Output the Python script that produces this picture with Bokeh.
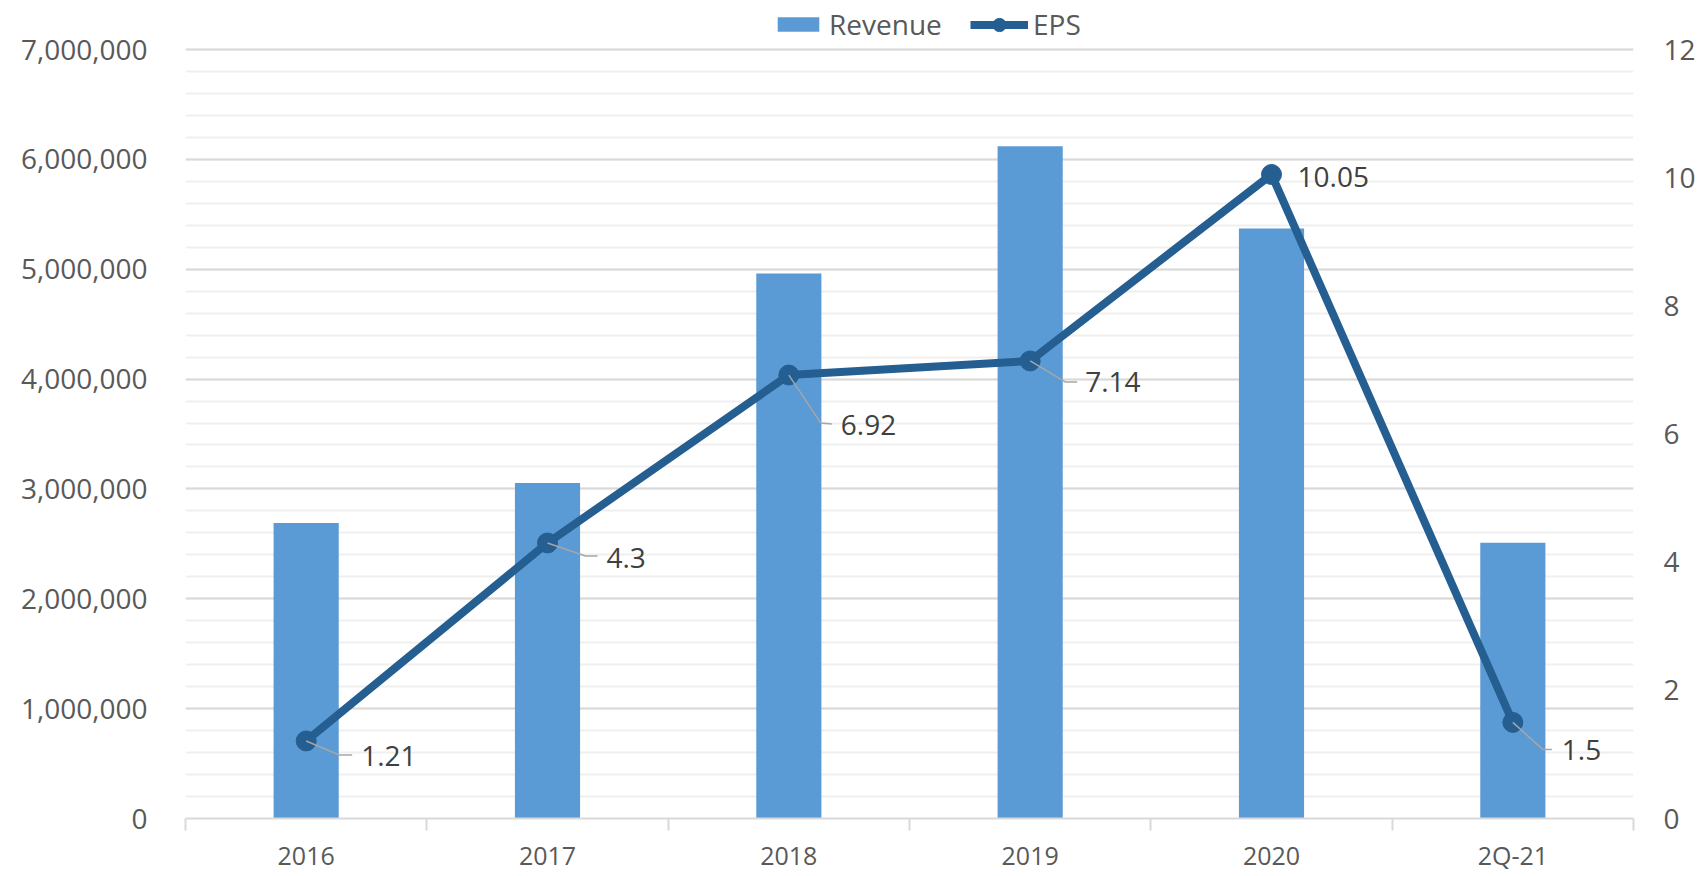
from bokeh.plotting import figure
from bokeh.models import (Range1d, LinearAxis, FixedTicker, SingleIntervalTicker,
                          NumeralTickFormatter, Legend, LegendItem, ColumnDataSource)
from bokeh.core.properties import value
from bokeh.embed import file_html
from bokeh.resources import INLINE

categories = ["2016", "2017", "2018", "2019", "2020", "2Q-21"]
revenue = [2690000, 3055000, 4960000, 6120000, 5370000, 2510000]
eps = [1.21, 4.3, 6.92, 7.14, 10.05, 1.5]
eps_labels = ["1.21", "4.3", "6.92", "7.14", "10.05", "1.5"]
rev_max, eps_max = 7000000, 12

# label placement (screen px offsets from point)
lab_dx = [55, 59, 52, 55, 26, 49]
lab_dy = [15, 15, 50, 21, 3, 28]
elbow = [(33, 14), (38, 13), (32, 48), (35, 21), None, (30, 27)]
lend = [(46, 14), (50, 13), (43, 49), (47, 21), None, (39, 27)]

W, H = 1700, 874
TOP = 49  # px between figure top and the top gridline (legend lives there)
ML, MR, MT, MB = 185, 67, 0, 56
FW, FH = W - ML - MR, H - MT - MB
EXT = FH / (FH - TOP)

BAR = "#5b9bd5"
LINE = "#255e91"
TXT = "#595959"
FONT = "Open Sans"

n = len(categories)
xs = [i + 0.5 for i in range(n)]

p = figure(width=W, height=H, output_backend="svg", toolbar_location=None,
           x_range=Range1d(0, n), y_range=Range1d(0, rev_max * EXT),
           min_border_left=ML, min_border_right=MR, min_border_top=MT, min_border_bottom=MB)
p.outline_line_color = None
p.background_fill_color = "white"
p.border_fill_color = "white"
p.extra_y_ranges = {"eps": Range1d(0, eps_max * EXT)}

# grid
p.xgrid.grid_line_color = None
yt = SingleIntervalTicker(interval=1000000, num_minor_ticks=5)
p.yaxis.ticker = yt
p.ygrid.ticker = yt
p.ygrid.bounds = (-1000, rev_max + 1000)
p.ygrid.grid_line_color = "#d9d9d9"
p.ygrid.grid_line_width = 2
p.ygrid.minor_grid_line_color = "#efefef"
p.ygrid.minor_grid_line_width = 2

# left axis
ya = p.yaxis[0]
ya.bounds = (0, rev_max)
ya.formatter = NumeralTickFormatter(format="0,0")
ya.axis_line_color = None
ya.major_tick_line_color = None
ya.minor_tick_line_color = None
ya.major_tick_out = 0
ya.minor_tick_out = 0
ya.major_label_standoff = 38
ya.major_label_text_font = FONT
ya.major_label_text_font_size = "28px"
ya.major_label_text_color = TXT

# right axis
ra = LinearAxis(y_range_name="eps", ticker=SingleIntervalTicker(interval=2), bounds=(0, eps_max))
ra.axis_line_color = None
ra.major_tick_line_color = None
ra.minor_tick_line_color = None
ra.major_tick_out = 0
ra.minor_tick_out = 0
ra.major_label_standoff = 30
ra.major_label_text_font = FONT
ra.major_label_text_font_size = "28px"
ra.major_label_text_color = TXT
p.add_layout(ra, "right")

# x axis
xa = p.xaxis[0]
xa.ticker = FixedTicker(ticks=xs, minor_ticks=list(range(n + 1)))
xa.major_label_overrides = {x: c for x, c in zip(xs, categories)}
xa.axis_line_color = "#d9d9d9"
xa.axis_line_width = 2
xa.major_tick_line_color = None
xa.major_tick_out = 0
xa.major_tick_in = 0
xa.minor_tick_line_color = "#d9d9d9"
xa.minor_tick_line_width = 2
xa.minor_tick_in = 0
xa.minor_tick_out = 12
xa.major_label_standoff = 7
xa.major_label_text_font = FONT
xa.major_label_text_font_size = "25px"
xa.major_label_text_color = TXT

# bars
bars = p.vbar(x=xs, top=revenue, width=0.27, fill_color=BAR, line_color=None)

# EPS line
ln = p.line(xs, eps, y_range_name="eps", line_color=LINE, line_width=8, line_join="round")
sc = p.scatter(xs, eps, y_range_name="eps", size=20, fill_color=LINE, line_color=LINE)

# leader lines
pxx = FW / n
pxy = (FH - TOP) / eps_max
lx, ly = [], []
for i in range(n):
    if elbow[i] is None:
        continue
    ex, ey = elbow[i]
    fx, fy = lend[i]
    lx.append([xs[i], xs[i] + ex / pxx, xs[i] + fx / pxx])
    ly.append([eps[i], eps[i] - ey / pxy, eps[i] - fy / pxy])
p.multi_line(lx, ly, y_range_name="eps", line_color="#a6a6a6", line_width=1.5)

src = ColumnDataSource(dict(x=xs, y=eps, t=eps_labels, dx=lab_dx, dy=lab_dy))
p.text(x="x", y="y", text="t", x_offset="dx", y_offset="dy", source=src, y_range_name="eps",
       text_font=value(FONT), text_font_size="28px", text_color="#404040",
       text_align="left", text_baseline="middle")

common = dict(orientation="horizontal", label_standoff=5, spacing=0,
              label_text_font=FONT, label_text_font_size="28px", label_text_color=TXT,
              border_line_color=None, background_fill_alpha=0, padding=0, margin=0)
# location = bottom-left corner of the legend box, relative to frame bottom-left
leg1 = Legend(items=[LegendItem(label="Revenue", renderers=[bars])],
              location=(587, FH - 43), glyph_width=52, glyph_height=18,
              label_height=34, **common)
leg2 = Legend(items=[LegendItem(label="EPS", renderers=[ln, sc])],
              location=(785, FH - 43), glyph_width=58, glyph_height=33,
              label_height=34, **common)
p.add_layout(leg1)
p.add_layout(leg2)

open("out.html", "w").write(file_html(p, INLINE))
